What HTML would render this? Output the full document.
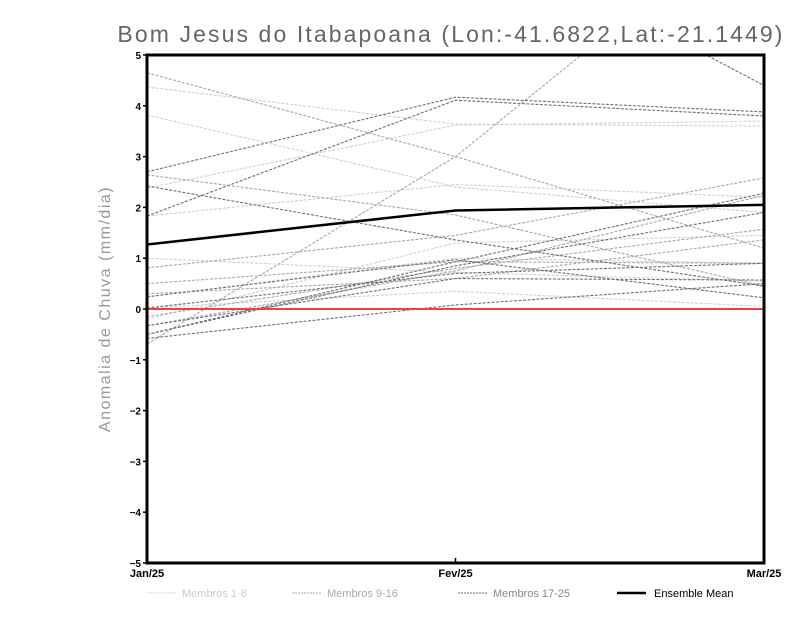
<!DOCTYPE html>
<html><head><meta charset="utf-8"><style>
body{margin:0;background:#fff;width:800px;height:618px;overflow:hidden}
svg text{font-family:"Liberation Sans",sans-serif}
</style></head><body>
<svg id="chart" width="800" height="618" xmlns="http://www.w3.org/2000/svg">
<defs><clipPath id="pc"><rect x="147" y="55" width="617" height="508"/></clipPath></defs>
<text x="451" y="42" text-anchor="middle" font-size="23" fill="#666" letter-spacing="2.1">Bom Jesus do Itabapoana (Lon:-41.6822,Lat:-21.1449)</text>
<text transform="translate(110,309) rotate(-90)" text-anchor="middle" font-size="16" fill="#999" letter-spacing="1.5">Anomalia de Chuva (mm/dia)</text>
<g id="lines" clip-path="url(#pc)"></g>
<g id="axes"></g>
<g id="legend">
<line x1="147" y1="593" x2="176" y2="593" stroke="#d0d0d0" stroke-dasharray="2,1"/>
<text x="182" y="597" font-size="11" fill="#ccc">Membros 1-8</text>
<line x1="292" y1="593" x2="321" y2="593" stroke="#a8a8a8" stroke-dasharray="2,1"/>
<text x="327" y="597" font-size="11" fill="#aaa">Membros 9-16</text>
<line x1="458" y1="593" x2="487" y2="593" stroke="#707070" stroke-dasharray="2,1"/>
<text x="493" y="597" font-size="11" fill="#888">Membros 17-25</text>
<line x1="617" y1="593" x2="646" y2="593" stroke="#000" stroke-width="2.5"/>
<text x="654" y="597" font-size="11" fill="#000">Ensemble Mean</text>
</g>
</svg>
<script>
const categories=["Jan/25","Fev/25","Mar/25"];
const yTicks=[5,4,3,2,1,0,-1,-2,-3,-4,-5];
const membersLight=[[4.37,3.64,3.6],[3.82,2.4,1.9],[2.38,3.62,3.7],[1.83,2.45,2.2],[1.0,0.72,0.55],[0.02,0.35,0.05],[-0.2,1.3,1.45],[0.24,1.0,0.9]];
const membersMid=[[4.65,3.0,1.2],[-0.69,3.0,7.9],[0.81,1.45,2.58],[-0.15,0.8,1.57],[0.5,0.93,0.9],[-0.33,0.75,2.24],[2.64,1.85,0.45],[0.3,0.6,1.36]];
const membersDark=[[2.7,4.17,3.88],[1.83,4.11,3.8],[2.42,1.36,0.45],[-0.5,0.93,2.28],[-0.58,0.08,0.5],[0.24,0.97,0.22],[-0.33,0.6,0.57],[0.02,0.7,0.9],[-0.5,0.85,1.9],[6.5,7.6,4.4]];
const ensembleMean=[1.27,1.94,2.05];
const NS="http://www.w3.org/2000/svg";
const X0=147,X1=764,Y0=55,Y1=563;
function xs(i){return X0+(X1-X0)*i/(categories.length-1);}
function ys(v){return Y1-(v+5)/10*(Y1-Y0);}
const lines=document.getElementById('lines'),axes=document.getElementById('axes');
function mk(t,a,p){const e=document.createElementNS(NS,t);for(const k in a)e.setAttribute(k,a[k]);p.appendChild(e);return e;}
function poly(vals,stroke,w,dash){return mk('polyline',{points:vals.map((v,i)=>xs(i)+','+ys(v)).join(' '),fill:'none',stroke:stroke,'stroke-width':w,'stroke-dasharray':dash||'none'},lines);}
membersLight.forEach(m=>{const e=poly(m,'#d0d0d0',1.1,'3,1.5');

});
membersMid.forEach(m=>{const e=poly(m,'#a8a8a8',1.1,'3,1.5');

});
membersDark.forEach(m=>{const e=poly(m,'#707070',1.1,'3,1.5');

});
const z=mk('line',{x1:X0,x2:X1,y1:ys(0),y2:ys(0),stroke:'#f04040','stroke-width':2},lines);


const mean=poly(ensembleMean,'#000',2.5);


const fr=mk('rect',{x:X0,y:Y0,width:X1-X0,height:Y1-Y0,fill:'none',stroke:'#000','stroke-width':3},axes);


yTicks.forEach(v=>{mk('line',{x1:X0-4,x2:X0,y1:ys(v),y2:ys(v),stroke:'#000','stroke-width':1.5},axes);
const t=mk('text',{x:X0-6,y:ys(v)+4,'text-anchor':'end','font-size':10,'font-weight':'bold',fill:'#000'},axes);t.textContent=v<0?'\u2212'+(-v):v;

});
categories.forEach((c,i)=>{mk('line',{x1:xs(i),x2:xs(i),y1:Y1,y2:Y1-5,stroke:'#000','stroke-width':1.5},axes);
const t=mk('text',{x:xs(i),y:Y1+14,'text-anchor':'middle','font-size':11,'font-weight':'bold',fill:'#000'},axes);t.textContent=c;

});
</script>
</body></html>
